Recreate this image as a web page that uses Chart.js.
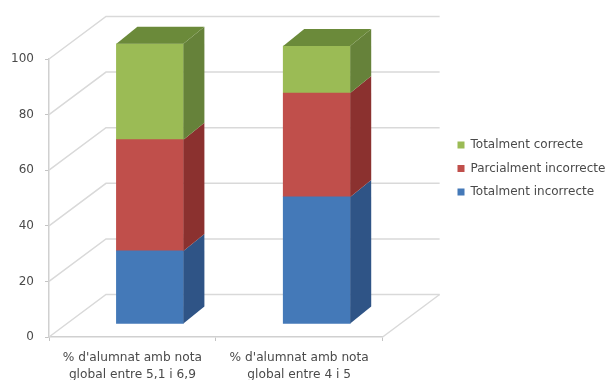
<!DOCTYPE html>
<html>
<head>
<meta charset="utf-8">
<script src="https://cdn.jsdelivr.net/npm/chart.js@4"></script>
<style>
    html, body { margin: 0; padding: 0; background: #fff; }
    canvas { display: block; }
</style>
</head>
<body>
<canvas id="stackChart" width="611" height="380"></canvas>
<script>
const categories = [
    ["% d'alumnat amb nota", 'global entre 5,1 i 6,9'],
    ["% d'alumnat amb nota", 'global entre 4 i 5']
];
const totalmentIncorrecte = [26.3, 45.7];
const parcialmentIncorrecte = [40, 37.4];
const totalmentCorrecte = [34.5, 16.9];
const yTicks = [0, 20, 40, 60, 80, 100];

// 3D look: size of the wall and of the bar depth, in px
const wallDx = 57, wallDy = 42.5;
const barDx = 21, barDy = 17;
const gridColor = '#d9d9d9';

function polygon(ctx, pts, color) {
    ctx.fillStyle = color;
    ctx.beginPath();
    pts.forEach((p, i) => i ? ctx.lineTo(p[0], p[1]) : ctx.moveTo(p[0], p[1]));
    ctx.closePath();
    ctx.fill();
}

const pseudo3d = {
    id: 'pseudo3d',
    // legend sits further right and higher than the layout would put it
    afterLayout(chart) {
        const legend = chart.legend;
        legend.left = 446;
        legend.right = legend.left + legend.width;
        legend.top -= 51;
        legend.bottom -= 51;
        legend.adjustHitBoxes();
    },
    beforeDatasetsDraw(chart) {
        const { ctx, chartArea: area, scales } = chart;
        ctx.save();
        ctx.strokeStyle = gridColor;
        ctx.lineWidth = 1.5;
        yTicks.forEach(t => {
            const y = scales.y.getPixelForValue(t);
            ctx.beginPath();
            ctx.moveTo(area.left, y);
            ctx.lineTo(area.left + wallDx, y - wallDy);
            ctx.lineTo(area.right + wallDx, y - wallDy);
            ctx.stroke();
        });
        ctx.beginPath();
        ctx.moveTo(area.right, area.bottom);
        ctx.lineTo(area.right + wallDx, area.bottom - wallDy);
        ctx.stroke();
        ctx.restore();

        // bars stand in the middle of the floor, not on the front edge
        ctx.save();
        ctx.translate(17.5, -13);
    },
    afterDatasetsDraw(chart) {
        const { ctx } = chart;
        const last = chart.data.datasets.length - 1;
        chart.data.datasets.forEach((ds, i) => {
            chart.getDatasetMeta(i).data.forEach(bar => {
                const r = bar.x + bar.width / 2;
                const l = bar.x - bar.width / 2;
                polygon(ctx, [[r, bar.y], [r + barDx, bar.y - barDy], [r + barDx, bar.base - barDy], [r, bar.base]], ds.sideColor);
                if (i === last) {
                    polygon(ctx, [[l, bar.y], [l + barDx, bar.y - barDy], [r + barDx, bar.y - barDy], [r, bar.y]], ds.topColor);
                }
            });
        });
        ctx.restore();
    }
};

const ctxStack = document.getElementById('stackChart').getContext('2d');
const stackChart = new Chart(ctxStack, {
    type: 'bar',
    data: {
        labels: categories,
        datasets: [{
            label: 'Totalment incorrecte',
            data: totalmentIncorrecte,
            backgroundColor: '#4479b8',
            sideColor: '#2f5486',
            clip: false
        }, {
            label: 'Parcialment incorrecte',
            data: parcialmentIncorrecte,
            backgroundColor: '#c04f4b',
            sideColor: '#8b312f',
            clip: false
        }, {
            label: 'Totalment correcte',
            data: totalmentCorrecte,
            backgroundColor: '#9bbb55',
            sideColor: '#66823a',
            topColor: '#6b8a3a',
            clip: false
        }]
    },
    options: {
        responsive: false,
        animation: false,
        layout: { padding: { top: 59, right: 59, left: 0, bottom: 0 } },
        datasets: { bar: { barThickness: 67 } },
        scales: {
            x: {
                stacked: true,
                afterFit(scale) { scale.height = 43; },
                grid: { drawOnChartArea: false, color: '#c4c4c4', tickLength: 4, offset: true },
                border: { color: '#d0d0d0', width: 1.5 },
                ticks: { color: '#4a4a4a', font: { family: 'DejaVu Sans', size: 12.2, lineHeight: 1.4 }, padding: 8, maxRotation: 0 }
            },
            y: {
                stacked: true,
                min: 0,
                max: 100,
                afterFit(scale) { scale.width = 49; },
                grid: { drawOnChartArea: false, color: '#c4c4c4', tickLength: 4 },
                border: { color: '#d0d0d0', width: 1.5 },
                ticks: { stepSize: 20, color: '#4a4a4a', font: { family: 'DejaVu Sans', size: 12 }, padding: 11 }
            }
        },
        plugins: {
            legend: {
                position: 'right',
                reverse: true,
                maxWidth: 200,
                labels: {
                    boxWidth: 7,
                    boxHeight: 7,
                    padding: 11.5,
                    color: '#4a4a4a',
                    font: { family: 'DejaVu Sans', size: 12 }
                }
            },
            tooltip: { enabled: false }
        }
    },
    plugins: [pseudo3d]
});
</script>
</body>
</html>
